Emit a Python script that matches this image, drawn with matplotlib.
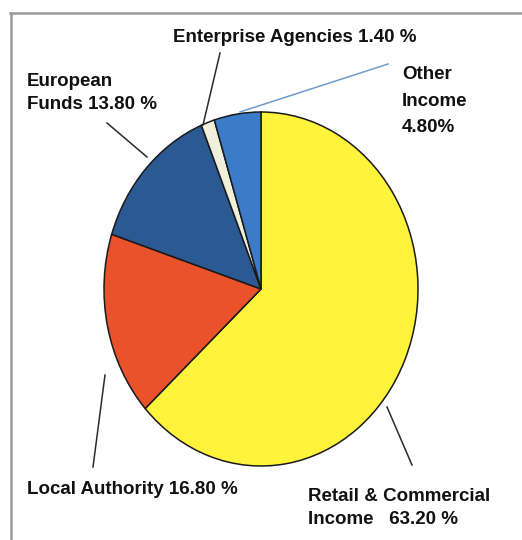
import matplotlib
matplotlib.use("Agg")
import matplotlib.pyplot as plt
from matplotlib.transforms import Affine2D

# income split, clockwise from 12 o'clock
sources = ["Retail & Commercial Income", "Local Authority", "European Funds",
           "Enterprise Agencies", "Other Income"]
shares = [63.20, 16.80, 13.80, 1.40, 4.80]
colours = ["#fff33c", "#e9522b", "#2b5a93", "#eef0dc", "#3c7bc8"]

W, H = 522, 540
fig = plt.figure(figsize=(W / 100, H / 100), dpi=100)
fig.patch.set_facecolor("white")

# pie centre / radii in pixels (the pie is drawn slightly taller than wide)
cx, cy, rx, ry = 261, 289, 157, 177
ax = fig.add_axes([0, 0, 1, 1])
ax.pie(shares, colors=colours, startangle=90, counterclock=False,
       wedgeprops=dict(edgecolor="#1a1a1a", linewidth=1.1))
# pie() resets the limits, so set them afterwards
ax.set_xlim(-cx / rx, (W - cx) / rx)
ax.set_ylim(-(H - cy) / ry, cy / ry)
ax.set_aspect("auto")
ax.axis("off")

# pixel coordinates, origin top-left
pix = Affine2D().scale(1 / W, -1 / H).translate(0, 1) + fig.transFigure

# frame
fig.add_artist(plt.Line2D([10, W], [13, 13], transform=pix, color="#9a9a9a", lw=1.8))
fig.add_artist(plt.Line2D([11, 11], [13, H], transform=pix, color="#9a9a9a", lw=1.8))

# leader lines
leaders = [
    ((107, 123), (147, 157), "#2a2a2a"),
    ((220, 53), (203, 125), "#2a2a2a"),
    ((388, 64), (240, 112), "#6f9bcc"),
    ((105, 375), (93, 467), "#2a2a2a"),
    ((387, 407), (412, 465), "#2a2a2a"),
]
for (x0, y0), (x1, y1), c in leaders:
    fig.add_artist(plt.Line2D([x0, x1], [y0, y1], transform=pix, color=c, lw=1.1))

font = dict(family=["Liberation Sans", "DejaVu Sans"], fontsize=13.5,
            fontweight="bold", color="#111111", transform=pix)
fig.text(173, 38, f"Enterprise Agencies {shares[3]:.2f} %", va="center", ha="left", **font)
fig.text(27, 93, f"European\nFunds {shares[2]:.2f} %", va="center", ha="left",
         linespacing=1.5, **font)
fig.text(402, 101, f"Other\nIncome\n{shares[4]:.2f}%", va="center", ha="left",
         linespacing=1.7, **font)
fig.text(27, 490, f"Local Authority {shares[1]:.2f} %", va="center", ha="left", **font)
fig.text(308, 508, f"Retail & Commercial\nIncome   {shares[0]:.2f} %", va="center",
         ha="left", linespacing=1.5, **font)

fig.savefig("out.png", dpi=100)
